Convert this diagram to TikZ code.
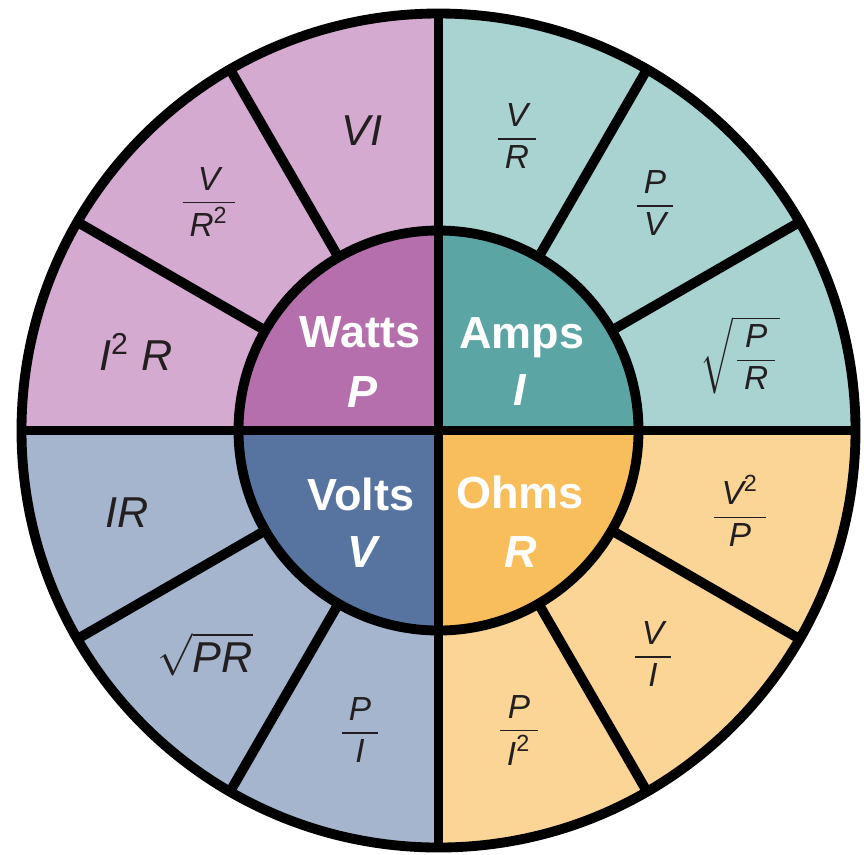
\documentclass[tikz,border=0pt]{standalone}
\usepackage{amsmath}
\usepackage{fontspec}
\setmainfont{Liberation Sans}
\definecolor{wout}{HTML}{D4AAD0}
\definecolor{win}{HTML}{B56FAC}
\definecolor{aout}{HTML}{A8D3D0}
\definecolor{ain}{HTML}{5BA6A5}
\definecolor{vout}{HTML}{A5B5CD}
\definecolor{vin}{HTML}{56749F}
\definecolor{oout}{HTML}{FAD596}
\definecolor{oin}{HTML}{F9BE5C}
\definecolor{ink}{HTML}{231F20}
\newcommand{\iv}[1]{\mbox{\itshape #1}}
\newcommand{\fr}[2]{\dfrac{\hspace{2pt}#1\hspace{2pt}}{\hspace{2pt}#2\hspace{2pt}}}
\begin{document}
\begin{tikzpicture}[
  rim/.style={line width=2.8pt, black},
  unitlbl/.style={text=white, font=\fontsize{12.8}{14}\selectfont\bfseries, anchor=base, inner sep=0pt},
  symlbl/.style={text=white, font=\fontsize{12.8}{14}\selectfont\bfseries\itshape, anchor=base, inner sep=0pt},
  frm/.style={text=ink, font=\fontsize{12.3}{14}\selectfont\itshape, anchor=base, inner sep=0pt},
  frac/.style={text=ink, font=\fontsize{9.5}{11}\selectfont, inner sep=0pt}
]
\useasboundingbox (0,0) rectangle (8.64,-8.54);
\coordinate (C) at (4.385,-4.305);
\begin{scope}[shift={(C)}]
  % outer quadrant fills
  \fill[aout] (0,0) -- (0:4.17) arc[start angle=0, end angle=90, radius=4.17] -- cycle;
  \fill[wout] (0,0) -- (90:4.17) arc[start angle=90, end angle=180, radius=4.17] -- cycle;
  \fill[vout] (0,0) -- (180:4.17) arc[start angle=180, end angle=270, radius=4.17] -- cycle;
  \fill[oout] (0,0) -- (270:4.17) arc[start angle=270, end angle=360, radius=4.17] -- cycle;
  % inner quadrant fills
  \fill[ain] (0,0) -- (0:2) arc[start angle=0, end angle=90, radius=2] -- cycle;
  \fill[win] (0,0) -- (90:2) arc[start angle=90, end angle=180, radius=2] -- cycle;
  \fill[vin] (0,0) -- (180:2) arc[start angle=180, end angle=270, radius=2] -- cycle;
  \fill[oin] (0,0) -- (270:2) arc[start angle=270, end angle=360, radius=2] -- cycle;
  % dividers
  \draw[rim] (180:4.17) -- (0:4.17);
  \draw[rim] (90:4.17) -- (270:4.17);
  \foreach \a in {30,60,120,150,210,240,300,330}
    \draw[rim] (\a:2) -- (\a:4.17);
  \draw[rim] (0,0) circle[radius=2];
  \draw[rim] (0,0) circle[radius=4.17];
\end{scope}

% Watts quadrant
\node[unitlbl] (watts) at (3.60,-3.47) {Watts};
\node[symlbl] (wsym) at (3.62,-4.07) {P};
\node[frm] (vi) at (3.62,-1.45) {VI};
\node[frac] (vr2) at (2.09,-2.02) {$\fr{\iv{V}}{\iv{R}\mbox{\textsuperscript{2}}}$};
\node[frm] (i2r) at (1.36,-3.70) {I\textsuperscript{\upshape 2} R};

% Amps quadrant
\node[unitlbl] (amps) at (5.22,-3.48) {Amps};
\node[symlbl] (asym) at (5.20,-4.05) {I};
\node[frac] (vr) at (5.17,-1.36) {$\fr{\iv{V}}{\iv{R}}$};
\node[frac] (pv) at (6.55,-2.03) {$\fr{\iv{P}}{\iv{V}}$};
\node[frac] (sqpr) at (7.40,-3.55) {$\sqrt{\fr{\iv{P}}{\iv{R}}}$};

% Volts quadrant
\node[unitlbl] (volts) at (3.61,-5.10) {Volts};
\node[symlbl] (vsym) at (3.62,-5.67) {V};
\node[frm] (ir) at (1.27,-5.27) {IR};
\node[frm] (sqprv) at (2.05,-6.72) {$\sqrt{\iv{PR}}$};
\node[frac] (pi) at (3.60,-7.30) {$\fr{\iv{P}}{\iv{I}}$};

% Ohms quadrant
\node[unitlbl] (ohms) at (5.20,-5.08) {Ohms};
\node[symlbl] (osym) at (5.21,-5.67) {R};
\node[frac] (v2p) at (7.40,-5.11) {$\fr{\iv{V}\mbox{\textsuperscript{2}}}{\iv{P}}$};
\node[frac] (vi2) at (6.53,-6.54) {$\fr{\iv{V}}{\iv{I}}$};
\node[frac] (pi2) at (5.19,-7.30) {$\fr{\iv{P}}{\iv{I}\mbox{\textsuperscript{2}}}$};
\end{tikzpicture}
\end{document}
